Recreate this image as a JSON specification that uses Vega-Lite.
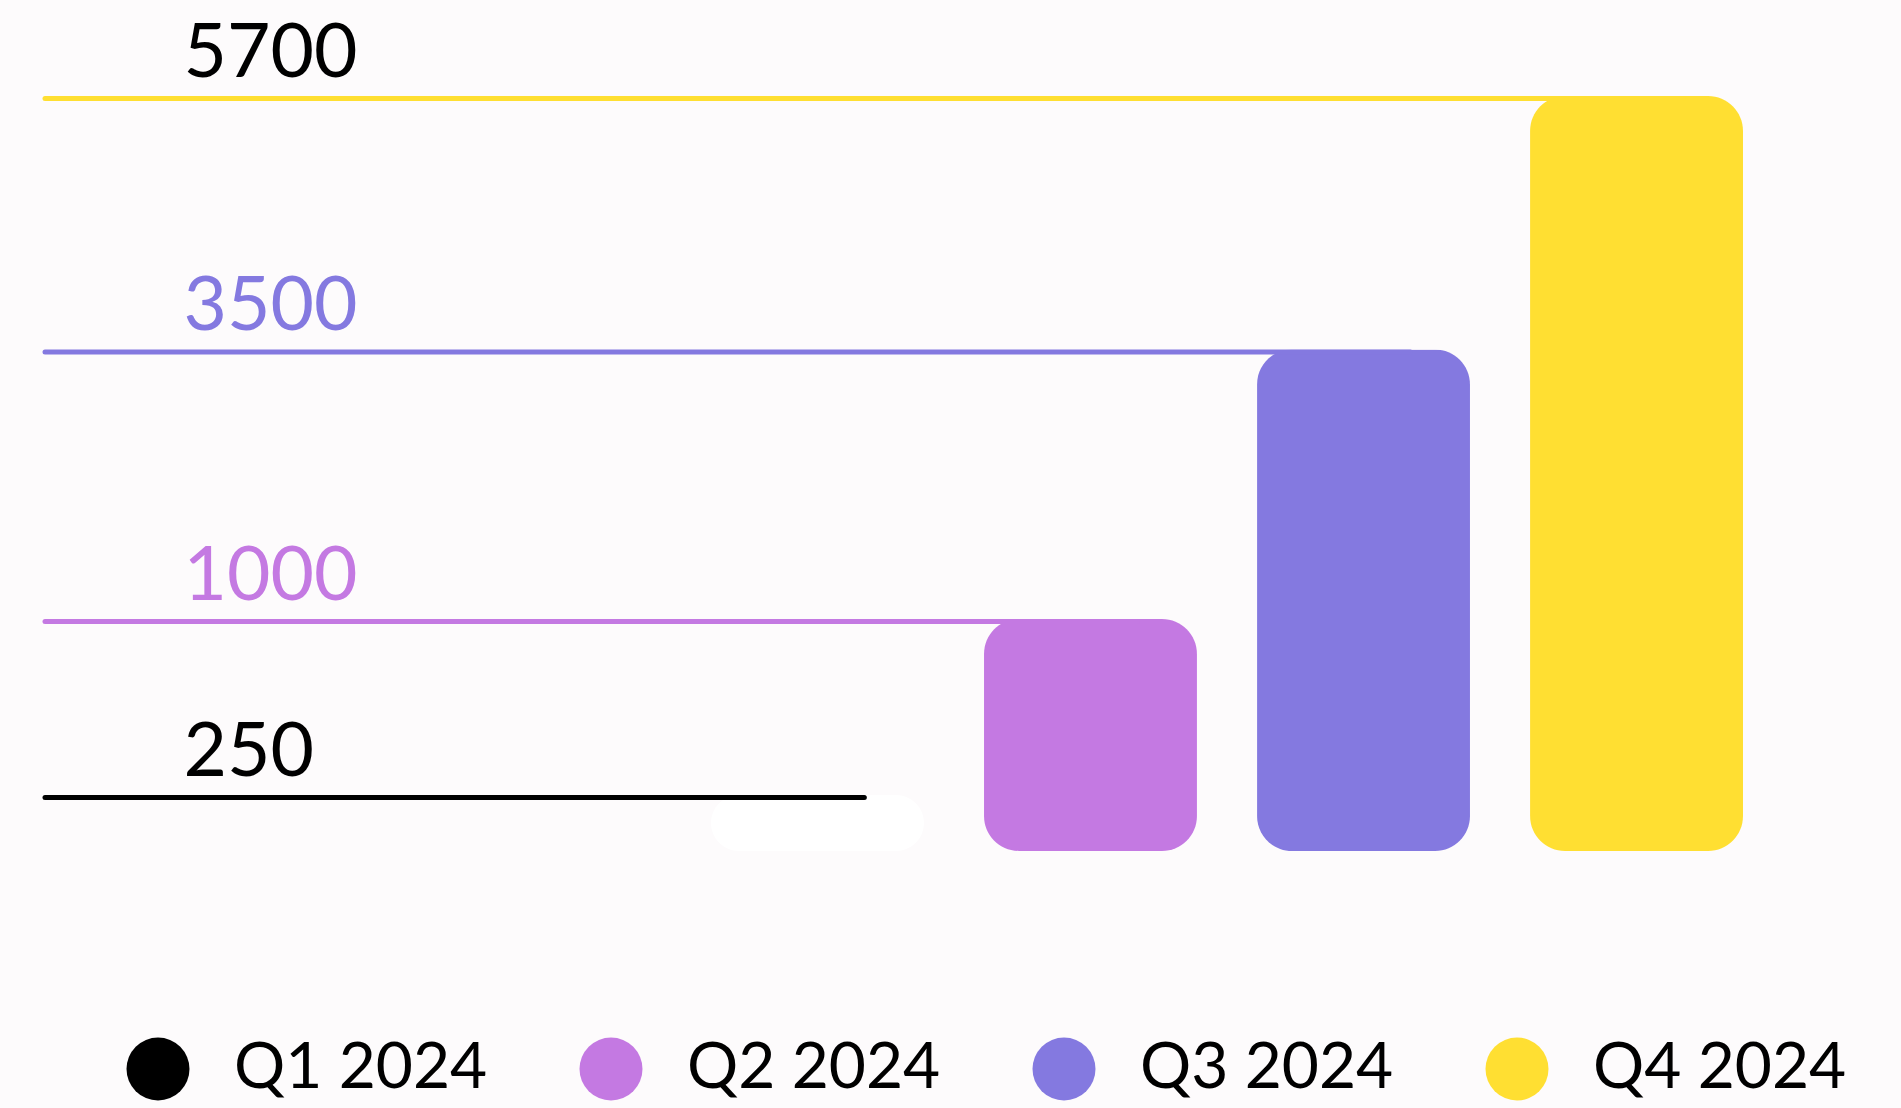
{
  "$schema": "https://vega.github.io/schema/vega-lite/v6.json",
  "width": 1856,
  "height": 851,
  "autosize": {"type": "none"},
  "padding": {"left": 45, "top": 0, "right": 0, "bottom": 257},
  "background": "#fdfbfc",
  "config": {"view": {"stroke": null}},
  "data": {
    "values": [
      {"quarter": "Q1 2024", "value": 250},
      {"quarter": "Q2 2024", "value": 1000},
      {"quarter": "Q3 2024", "value": 3500},
      {"quarter": "Q4 2024", "value": 5700}
    ]
  },
  "encoding": {
    "x": {
      "field": "quarter",
      "type": "nominal",
      "sort": null,
      "axis": null,
      "scale": {"type": "band", "range": [666, 1698], "paddingInner": 0.22, "paddingOuter": 0}
    },
    "y": {
      "field": "value",
      "type": "quantitative",
      "title": null,
      "scale": {"type": "linear", "domain": [0, 250, 1000, 3500, 5700], "range": [851, 795, 619, 349.5, 96], "nice": false, "zero": false},
      "axis": {
        "title": null,
        "values": [250, 1000, 3500, 5700],
        "format": "d",
        "domain": false,
        "ticks": false,
        "grid": false,
        "labelFont": "Lato",
        "labelFontSize": 75,
        "labelAlign": "left",
        "labelBaseline": "alphabetic",
        "labelPadding": -138,
        "labelOffset": -20,
        "labelLimit": 0,
        "labelOverlap": false,
        "labelBound": false,
        "labelFlush": false,
        "labelColor": {
          "condition": [
            {"test": "datum.value === 3500", "value": "#8479e0"},
            {"test": "datum.value === 1000", "value": "#c479e2"}
          ],
          "value": "#000000"
        }
      }
    }
  },
  "layer": [
    {
      "mark": {"type": "bar", "cornerRadius": 35},
      "encoding": {
        "color": {
          "condition": {"test": "datum.quarter === 'Q1 2024'", "value": "#ffffff"},
          "field": "quarter",
          "type": "nominal",
          "sort": null,
          "scale": {
            "domain": ["Q1 2024", "Q2 2024", "Q3 2024", "Q4 2024"],
            "range": ["#000000", "#c479e2", "#8479e0", "#ffdf32"]
          },
          "legend": {
            "title": null,
            "orient": "none",
            "legendX": 81,
            "legendY": 1037,
            "direction": "horizontal",
            "symbolType": "circle",
            "symbolSize": 3969,
            "symbolStrokeWidth": 0,
            "symbolOpacity": 1,
            "labelFont": "Lato",
            "labelFontSize": 64,
            "labelColor": "#000000",
            "labelLimit": 0,
            "labelOffset": 44,
            "columnPadding": 91,
            "padding": 0
          }
        }
      }
    },
    {
      "mark": {"type": "rule", "strokeWidth": 5, "strokeCap": "round", "yOffset": 2.5},
      "encoding": {
        "x": {"field": "quarter", "type": "nominal", "sort": null, "bandPosition": 0.72},
        "x2": {"value": 0},
        "stroke": {
          "field": "quarter",
          "type": "nominal",
          "sort": null,
          "scale": {
            "domain": ["Q1 2024", "Q2 2024", "Q3 2024", "Q4 2024"],
            "range": ["#000000", "#c479e2", "#8479e0", "#ffdf32"]
          },
          "legend": null
        }
      }
    }
  ]
}
